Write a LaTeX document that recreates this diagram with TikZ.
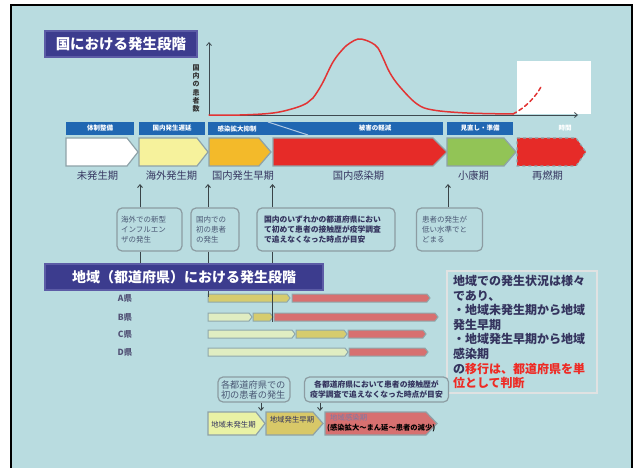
\documentclass[tikz,border=0pt]{standalone}
\usepackage{fontspec}
\setmainfont{Noto Sans CJK JP}
\usetikzlibrary{arrows.meta,calc}
\definecolor{bg}{HTML}{B9DCE0}
\definecolor{titlebg}{HTML}{3C3C8E}
\definecolor{titleedge}{HTML}{5C5CA6}
\definecolor{band}{HTML}{2067B2}
\definecolor{navy}{HTML}{34345E}
\definecolor{stagetxt}{HTML}{363660}
\definecolor{grayblue}{HTML}{4A5874}
\definecolor{boxedge}{HTML}{8C9CA2}
\definecolor{chevedge}{HTML}{8EA2A8}
\definecolor{cyellow}{HTML}{F6F29C}
\definecolor{corange}{HTML}{F3BA2A}
\definecolor{cred}{HTML}{E62B28}
\definecolor{cgreen}{HTML}{92C456}
\definecolor{curvecol}{HTML}{E23434}
\definecolor{olive}{HTML}{D6CC6E}
\definecolor{pinkbar}{HTML}{D77070}
\definecolor{pale}{HTML}{E0EDC2}
\definecolor{redtxt}{HTML}{EE2A24}
\definecolor{axisgray}{HTML}{3E4A50}
\definecolor{linegray}{HTML}{3A4448}
\definecolor{noteedge}{HTML}{E0E2E2}
\definecolor{baredge}{HTML}{8FA8AC}
\definecolor{lav}{HTML}{7A7AA6}
\newcommand{\mychev}[6]{\draw[#1] (#2,#4) -- ({#3-#6},#4) -- (#3,{(#4+#5)/2}) -- ({#3-#6},#5) -- (#2,#5) -- cycle;}
\tikzset{
  titlebox/.style={fill=titlebg, draw=titleedge, line width=1.5pt, text=white, inner sep=0pt},
  axisline/.style={draw=axisgray, line width=0.8pt, -{Straight Barb[length=3pt,width=5pt]}},
  ylab/.style={font=\bfseries\fontsize{7}{8.2}\selectfont, align=center, text=black!80, inner sep=0pt},
  curveline/.style={draw=curvecol, line width=1.5pt, line cap=round, line join=round},
  bandbox/.style={fill=band, minimum height=13, inner sep=0pt, text=white, font=\bfseries\fontsize{6.5}{7}\selectfont},
  bandtxt/.style={inner sep=0pt, text=white, font=\bfseries\fontsize{6.5}{7}\selectfont},
  chev/.style={draw=chevedge, line width=1.2pt, line join=miter},
  barbox/.style={draw=baredge, line width=1pt, line join=miter},
  stage/.style={inner sep=0pt, text=stagetxt, font=\fontsize{10.3}{11}\selectfont},
  infobox/.style={draw=boxedge, line width=1.2pt, rounded corners=5pt, fill=bg, minimum height=43, align=left, font=\fontsize{7.5}{10}\selectfont, text=grayblue, inner sep=3pt},
  infoboxb/.style={infobox, font=\bfseries\fontsize{7.8}{10}\selectfont, text=navy},
  conn/.style={draw=linegray, line width=0.9pt, -{Straight Barb[length=3pt,width=5pt]}},
  connline/.style={draw=linegray, line width=0.9pt},
  plab/.style={inner sep=0pt, text=navy!85, font=\bfseries\fontsize{8.5}{9}\selectfont},
  notebox/.style={draw=noteedge, line width=2pt, fill=bg, minimum width=150, minimum height=122, text width=138, align=left, font=\bfseries\fontsize{12}{14.6}\selectfont, text=navy, inner sep=4pt},
  smalltxt/.style={inner sep=0pt, text=navy, font=\fontsize{7.4}{8}\selectfont}
}
\begin{document}
\begin{tikzpicture}[x=1pt,y=-1pt]
\useasboundingbox (0,0) rectangle (635,468);
\clip (0,0) rectangle (635,468);
\fill[white] (0,0) rectangle (635,468);
\fill[bg] (11,5) rectangle (632,472);
\draw[line width=2pt] (11,474) -- (11,5) -- (632,5) -- (632,474);

% title 1
\node[titlebox, minimum width=152, minimum height=26, font=\bfseries\fontsize{14.5}{16}\selectfont] (t1) at (121,44) {国における発生段階};

% graph
\fill[white] (517,61) rectangle (591,114);
\coordinate (org) at (209,115);
\coordinate (ytop) at (209,42);
\coordinate (xend) at (578,115);
\draw[axisline] (org) -- (ytop);
\draw[axisline] (org) -- (xend);
\node[ylab] (yl) at (196,88.5) {国\\内\\の\\患\\者\\数};
\draw[curveline] plot[smooth, tension=0.6] coordinates {(209,115) (240,115) (273,113) (295,108) (307,103) (313,98) (322,84) (333,62) (343,49) (350,43) (358,39) (365,40) (372,43) (378,48) (383,58) (390,73) (400,87) (417,104) (433,110) (467,113) (513,114)};
\draw[curveline, dash pattern=on 4pt off 3pt] (513,114) .. controls (525,108) and (536,97) .. (542,85);

% header bands
\node[bandbox, minimum width=68] (h1) at (100,128.5) {体制整備};
\node[bandbox, minimum width=66] (h2) at (172,128.5) {国内発生遅延};
\node[bandbox, minimum width=235] (h3) at (325.5,128.5) {};
\draw[white!65!band, line width=1pt] (268,122) -- (308,135);
\node[bandtxt] (h3a) at (237,128.5) {感染拡大抑制};
\node[bandtxt] (h3b) at (375,128.5) {被害の軽減};
\node[bandbox, minimum width=66] (h5) at (480,128.5) {見直し・準備};
\node[bandtxt] (h6) at (565,128.5) {時間};

% chevrons
\mychev{chev, fill=white}{66}{138}{138}{166}{11}
\mychev{chev, fill=cyellow}{139}{208}{138}{166}{11}
\mychev{chev, fill=corange}{209}{271}{138}{166}{12}
\mychev{chev, fill=cred}{273}{447}{138}{166}{14}
\mychev{chev, fill=cgreen}{447}{516}{138}{166}{12}
\mychev{chev, fill=cred, dashed}{517}{586}{138}{166}{10}

\node[stage] (s1) at (97.5,176) {未発生期};
\node[stage] (s2) at (171.5,176) {海外発生期};
\node[stage] (s3) at (243,176) {国内発生早期};
\node[stage] (s4) at (358.5,176) {国内感染期};
\node[stage] (s5) at (473.5,176) {小康期};
\node[stage] (s6) at (547.5,176) {再燃期};

% info boxes
\node[infobox, minimum width=65, text width=57] (b1) at (149.5,229.5) {海外での新型\\インフルエン\\ザの発生};
\node[infobox, minimum width=48, text width=38] (b2) at (215,229.5) {国内での\\初の患者\\の発生};
\node[infoboxb, minimum width=138, text width=124] (b3) at (326,229.5) {国内のいずれかの都道府県におい\\て初めて患者の接触歴が疫学調査\\で追えなくなった時点が目安};
\node[infobox, minimum width=66, text width=55] (b4) at (449.5,229.5) {患者の発生が\\低い水準でと\\どまる};

\coordinate (p1) at (140,184);
\coordinate (p2) at (208,184);
\coordinate (p3) at (272.5,184);
\coordinate (p4) at (448,184);
\draw[conn] (b1.north -| p1) -- (p1);
\draw[conn] (b2.north -| p2) -- (p2);
\draw[conn] (b3.north -| p3) -- (p3);
\draw[conn] (b4.north -| p4) -- (p4);

% bars (regional)
\mychev{barbox, fill=olive}{208}{290}{294}{302}{3}
\mychev{barbox, fill=pinkbar}{292}{430}{294}{302}{3}
\mychev{barbox, fill=pale}{208}{252}{313}{321}{3}
\mychev{barbox, fill=olive}{253}{273}{313}{321}{3}
\mychev{barbox, fill=pinkbar}{274}{438}{313}{321}{3}
\mychev{barbox, fill=pale}{208}{295}{330}{338}{3}
\mychev{barbox, fill=olive}{296}{347}{330}{338}{3}
\mychev{barbox, fill=pinkbar}{348}{426}{330}{338}{3}
\mychev{barbox, fill=pale}{208}{348}{348}{356}{3}
\mychev{barbox, fill=pinkbar}{349}{428}{348}{356}{3}

\coordinate (q1) at (140,266);
\coordinate (q2) at (208,297);
\coordinate (q3) at (272.5,322);
\draw[connline] (b1.south -| q1) -- (q1);
\draw[connline] (b2.south -| q2) -- (q2);
\draw[connline] (b3.south -| q3) -- (q3);

% title 2
\node[titlebox, minimum width=278, minimum height=26, font=\bfseries\fontsize{14}{16}\selectfont] (t2) at (184,277) {地域（都道府県）における発生段階};

\node[plab] (la) at (125,298) {A県};
\node[plab] (lb) at (125,317) {B県};
\node[plab] (lc) at (125,334) {C県};
\node[plab] (ld) at (125,352) {D県};

% note box
\node[notebox] (nb) at (522,332) {地域での発生状況は様々\\であり、\\・地域未発生期から地域\\発生早期\\・地域発生早期から地域\\感染期\\の\textcolor{redtxt}{移行は、都道府県を単}\\\textcolor{redtxt}{位として判断}};

% bottom section
\node[infobox, minimum width=72, minimum height=25, text width=66, font=\fontsize{9.2}{10}\selectfont] (bb1) at (254,389.5) {各都道府県での\\初の患者の発生};
\node[infoboxb, minimum width=143, minimum height=25, text width=138, align=center] (bb2) at (376.5,389.5) {各都道府県において患者の接触歴が\\疫学調査で追えなくなった時点が目安};

\coordinate (r1) at (261,411);
\coordinate (r2) at (320,411);
\draw[conn] (bb1.south -| r1) -- (r1);
\draw[conn] (bb2.south -| r2) -- (r2);

\mychev{chev, fill=pale!80!yellow!90!white}{208}{265}{412}{435}{9}
\mychev{chev, fill=olive!95!orange}{266}{323}{412}{435}{10}
\mychev{chev, fill=pinkbar}{325}{437}{412}{435}{11}
\node[smalltxt] (c1) at (233.5,425) {地域未発生期};
\node[smalltxt] (c2) at (292,420) {地域発生早期};
\node[smalltxt, text=lav, anchor=west] (c3) at (330,418) {地域感染期};
\node[smalltxt, text=black, font=\bfseries\fontsize{7.3}{8}\selectfont, anchor=west] (c3b) at (327,428.5) {(感染拡大～まん延～患者の減少)};
\end{tikzpicture}
\end{document}
